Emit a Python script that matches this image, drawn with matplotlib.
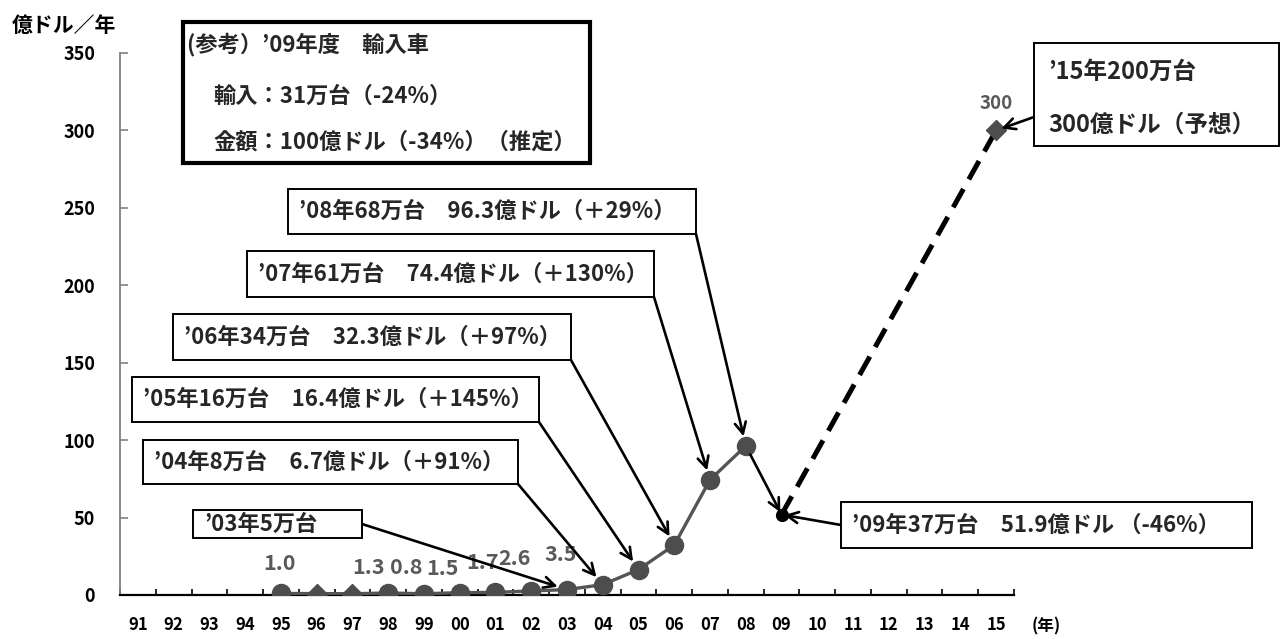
import matplotlib
matplotlib.use("Agg")
import matplotlib.pyplot as plt
from matplotlib.patches import Rectangle

plt.rcParams["font.family"] = ["Noto Sans CJK JP", "DejaVu Sans"]
plt.rcParams["font.weight"] = "bold"

# ---- data -------------------------------------------------------------
years = ["91", "92", "93", "94", "95", "96", "97", "98", "99", "00", "01", "02",
         "03", "04", "05", "06", "07", "08", "09", "10", "11", "12", "13", "14", "15"]
hist_years = ["95", "96", "97", "98", "99", "00", "01", "02", "03", "04", "05", "06", "07", "08"]
hist_values = [1.0, 0.9, 0.8, 1.3, 0.8, 1.5, 1.7, 2.6, 3.5, 6.7, 16.4, 32.3, 74.4, 96.3]
hist_markers = ["o", "D", "D", "o", "o", "o", "o", "o", "o", "o", "o", "o", "o", "o"]
labelled_years = ["95", "98", "99", "00", "01", "02", "03"]
year_2009 = "09"
value_2009 = 51.9
year_2015 = "15"
value_2015 = 300.0
y_ticks = [0, 50, 100, 150, 200, 250, 300, 350]

W, H = 1281, 639
GREY = "#555555"
TXT = "#262626"


def fx(x):
    return x / W


def fy(y):
    return 1 - y / H


fig = plt.figure(figsize=(W / 100, H / 100), dpi=100)
ax = fig.add_axes([fx(120), fy(595), (1014 - 120) / W, (595 - 53) / H])

xpos = {y: i for i, y in enumerate(years)}

# historical series
hx = [xpos[y] for y in hist_years]
ax.plot(hx, hist_values, color=GREY, lw=2.4, zorder=3)
for x, v, m in zip(hx, hist_values, hist_markers):
    ax.plot([x], [v], marker=m, ms=13 if m == "o" else 10.5, color="#4d4d4d",
            mec="#4d4d4d", zorder=4)

# 2009 result and 2015 forecast
x09, x15 = xpos[year_2009], xpos[year_2015]
ax.plot([x09, x15], [value_2009, value_2015], color="black", lw=3.6,
        ls=(0, (4.2, 2.2)), zorder=3)
ax.plot([x09], [value_2009], "o", ms=8.5, color="black", zorder=5)
ax.plot([x15], [value_2015], "D", ms=10, color="#4d4d4d", zorder=5)

# value labels (offsets in pixels)
label_offsets = {"95": (-1, 30), "98": (-20, 25), "99": (-18, 26), "00": (-17, 24),
                 "01": (-13, 30), "02": (-17, 32), "03": (-6, 35)}
for y in labelled_years:
    v = hist_values[hist_years.index(y)]
    dx, dy = label_offsets[y]
    ax.annotate(f"{v:.1f}", xy=(xpos[y], v), xytext=(dx * 0.72, dy * 0.72),
                textcoords="offset points", ha="center", va="center",
                fontsize=15.5, color="#595959", zorder=6)
ax.annotate(f"{value_2015:.0f}", xy=(x15, value_2015), xytext=(0, 27 * 0.72),
            textcoords="offset points", ha="center", va="center",
            fontsize=13.5, color="#595959", zorder=6)

# axes styling
ax.set_xlim(-0.5, len(years) - 0.5)
ax.set_ylim(0, 350)
ax.set_yticks(y_ticks)
ax.set_yticklabels([str(t) for t in y_ticks], fontsize=13, fontweight="bold")
ax.set_xticks(range(len(years)))
ax.set_xticklabels(years, fontsize=12, fontweight="bold")
ax.set_xticks([i - 0.5 for i in range(len(years) + 1)], minor=True)
ax.tick_params(axis="x", which="major", length=0, pad=15)
ax.tick_params(axis="x", which="minor", direction="in", length=4, width=1.2, color="black")
ax.tick_params(axis="y", direction="in", length=6, width=1.2, color="#808080", pad=18)
for s in ("top", "right"):
    ax.spines[s].set_visible(False)
ax.spines["left"].set_color("#808080")
ax.spines["left"].set_linewidth(1.3)
ax.spines["bottom"].set_color("black")
ax.spines["bottom"].set_linewidth(1.6)

fig.text(fx(12), fy(25), "億ドル／年", fontsize=15, fontweight="bold",
         ha="left", va="center")
fig.text(fx(1032), fy(626), "(年)", fontsize=12, fontweight="bold",
         ha="left", va="center")


def box(x0, y0, x1, y1, lw=1.4):
    fig.add_artist(Rectangle((fx(x0), fy(y1)), (x1 - x0) / W, (y1 - y0) / H,
                             transform=fig.transFigure, fc="white", ec="black",
                             lw=lw, zorder=10))


def put(x, y, s, size=16):
    fig.text(fx(x), fy(y), s, fontsize=size, fontweight="bold", color=TXT,
             ha="left", va="center", zorder=11)


arrow = dict(arrowstyle="->,head_length=0.8,head_width=0.4", lw=1.9,
             color="black", shrinkA=0)


def arrow_to(px, py, year, value, shrink=7):
    ax.annotate("", xy=(xpos[year], value), xycoords="data",
                xytext=(px, H - py), textcoords="figure pixels",
                arrowprops=dict(arrow, shrinkB=shrink), zorder=8,
                annotation_clip=False)


# reference box
box(183, 22, 590, 163, lw=3)
put(187, 45, "(参考）’09年度　輸入車")
put(213, 96, "輸入：31万台（-24%）")
put(213, 142, "金額：100億ドル（-34%）（推定）")

# yearly call-outs
callouts = [
    ((288, 189, 696, 234), "’08年68万台　96.3億ドル（＋29%）", (696, 234), "08"),
    ((247, 251, 654, 297), "’07年61万台　74.4億ドル（＋130%）", (654, 297), "07"),
    ((173, 314, 571, 360), "’06年34万台　32.3億ドル（＋97%）", (571, 360), "06"),
    ((132, 377, 539, 422), "’05年16万台　16.4億ドル（＋145%）", (539, 422), "05"),
    ((143, 440, 518, 484), "’04年8万台　6.7億ドル（＋91%）", (518, 484), "04"),
    ((193, 510, 362, 538), "’03年5万台", (362, 524), "03"),
]
for (x0, y0, x1, y1), s, (ax0, ay0), yr in callouts:
    box(x0, y0, x1, y1)
    put(x0 + 11, (y0 + y1) / 2, s)
    arrow_to(ax0, ay0, yr, hist_values[hist_years.index(yr)])

# 2008 -> 2009 drop
ax.annotate("", xy=(x09, value_2009), xytext=(xpos["08"], hist_values[-1]),
            arrowprops=dict(arrow, shrinkA=7, shrinkB=2), zorder=8)

box(841, 502, 1252, 548)
put(852, 525, "’09年37万台　51.9億ドル （-46%）")
arrow_to(841, 525, year_2009, value_2009, shrink=2)

box(1034, 43, 1279, 146)
put(1048, 72, "’15年200万台", size=17)
put(1048, 125, "300億ドル（予想）", size=17)
arrow_to(1034, 117, year_2015, value_2015, shrink=4)

fig.savefig("out.png", dpi=100, facecolor="white")
